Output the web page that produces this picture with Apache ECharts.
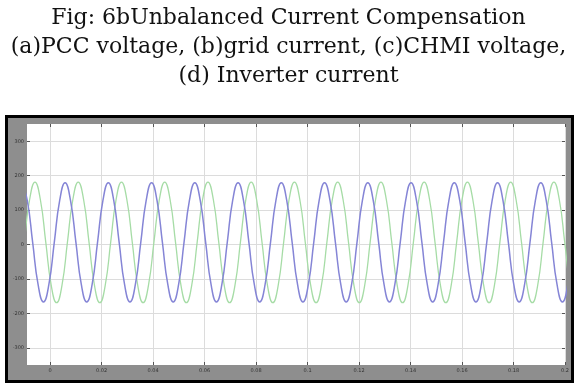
<!DOCTYPE html>
<html>
<head>
<meta charset="utf-8">
<script src="https://cdn.jsdelivr.net/npm/echarts@6/dist/echarts.min.js"></script>
<style>
html,body{margin:0;padding:0;background:#fff;}
#c{width:577px;height:386px;}
</style>
</head>
<body>
<div id="c"></div>
<script>
// Title lines
var titleLines = ['Fig: 6bUnbalanced Current Compensation', '(a)PCC voltage, (b)grid current, (c)CHMI voltage,', '(d) Inverter current'];
// Tick values
var xTicks = [0, 0.02, 0.04, 0.06, 0.08, 0.1, 0.12, 0.14, 0.16, 0.18, 0.2];
var yTicks = [-300, -200, -100, 0, 100, 200, 300];
var sampleStep = 0.0021;
var blueStart = -0.0110;
var blueV = [
  179,128,6,-116,-167,-116,6,128, 179,128,6,-116,-167,-116,6,128,
  179,128,6,-116,-167,-116,6,128, 179,128,6,-116,-167,-116,6,128,
  179,128,6,-116,-167,-116,6,128, 179,128,6,-116,-167,-116,6,128,
  179,128,6,-116,-167,-116,6,128, 179,128,6,-116,-167,-116,6,128,
  179,128,6,-116,-167,-116,6,128, 179,128,6,-116,-167,-116,6,128,
  179,128,6,-116,-167,-116,6,128, 179,128,6,-116,-167,-116,6,128,
  179,128,6,-116,-167,-116,6
];
var greenStart = -0.0143;
var greenV = [
  -169,-118,6,130,181,130,6,-118, -169,-118,6,130,181,130,6,-118,
  -169,-118,6,130,181,130,6,-118, -169,-118,6,130,181,130,6,-118,
  -169,-118,6,130,181,130,6,-118, -169,-118,6,130,181,130,6,-118,
  -169,-118,6,130,181,130,6,-118, -169,-118,6,130,181,130,6,-118,
  -169,-118,6,130,181,130,6,-118, -169,-118,6,130,181,130,6,-118,
  -169,-118,6,130,181,130,6,-118, -169,-118,6,130,181,130,6,-118,
  -169,-118,6,130,181,130,6,-118, -169
];

function pairs(start, v) { return v.map(function (y, i) { return [+(start + i * sampleStep).toFixed(4), y]; }); }

var chart = echarts.init(document.getElementById('c'), null, {renderer: 'canvas'});
var titleY = [18, 47, 76];
chart.setOption({
  animation: false,
  backgroundColor: '#fff',
  graphic: [{
    type: 'rect', z: -10, silent: true,
    shape: {x: 6.5, y: 116.5, width: 566, height: 265},
    style: {fill: '#8e8e8e', stroke: '#000', lineWidth: 3}
  }].concat(titleLines.map(function (t, i) {
    return {
      type: 'text', silent: true, x: 288.5, y: titleY[i],
      style: {text: t, textAlign: 'center', textVerticalAlign: 'middle', verticalAlign: 'middle',
              font: '22px "DejaVu Serif"', fill: '#111'}
    };
  })),
  grid: {left: 27, top: 124, width: 538, height: 241, show: true, backgroundColor: '#fff', borderWidth: 0},
  xAxis: [{
    type: 'value', min: -0.009, max: 0.2,
    axisLine: {show: false, onZero: false},
    axisTick: {show: true, inside: true, length: 3, lineStyle: {color: '#555'}, customValues: xTicks},
    axisLabel: {customValues: xTicks, fontSize: 5, color: '#333', margin: 3, fontFamily: 'DejaVu Sans'},
    splitLine: {show: true, lineStyle: {color: '#dcdcdc', width: 1}}
  }, {
    type: 'value', min: -0.009, max: 0.2, position: 'top',
    axisLine: {show: false, onZero: false},
    axisTick: {show: true, inside: true, length: 3, lineStyle: {color: '#555'}, customValues: xTicks},
    axisLabel: {show: false},
    splitLine: {show: false}
  }],
  yAxis: [{
    type: 'value', min: -350, max: 350,
    axisLine: {show: false, onZero: false},
    axisTick: {show: true, inside: true, length: 3, lineStyle: {color: '#555'}, customValues: yTicks},
    axisLabel: {customValues: yTicks, fontSize: 5, color: '#333', margin: 3, fontFamily: 'DejaVu Sans'},
    splitLine: {show: true, lineStyle: {color: '#dcdcdc', width: 1}}
  }, {
    type: 'value', min: -350, max: 350, position: 'right',
    axisLine: {show: false, onZero: false},
    axisTick: {show: true, inside: true, length: 3, lineStyle: {color: '#555'}, customValues: yTicks},
    axisLabel: {show: false},
    splitLine: {show: false}
  }],
  series: [{
    name: 'green', type: 'line', smooth: true, symbol: 'none', clip: true,
    data: pairs(greenStart, greenV),
    lineStyle: {color: '#a6dca6', width: 1.3}
  }, {
    name: 'blue', type: 'line', smooth: true, symbol: 'none', clip: true,
    data: pairs(blueStart, blueV),
    lineStyle: {color: '#8585d6', width: 1.5}
  }]
});
</script>
</body>
</html>
